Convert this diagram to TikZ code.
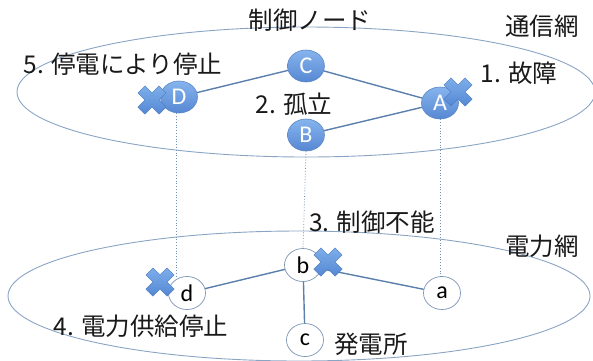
\documentclass[tikz,border=0pt]{standalone}
\usepackage{fontspec}
\setmainfont{Carlito}
\newfontfamily\jp{Noto Sans CJK JP}
\usetikzlibrary{shapes.geometric}
\definecolor{netline}{HTML}{8AA4C4}
\definecolor{linkc}{HTML}{5B7FAD}
\definecolor{dotc}{HTML}{6F8FB5}
\definecolor{ntop}{HTML}{86B4EE}
\definecolor{nbot}{HTML}{5687D2}
\definecolor{nborder}{HTML}{5B87C4}
\definecolor{wborder}{HTML}{7D95B5}
\definecolor{xtop}{HTML}{7DAEEA}
\definecolor{xbot}{HTML}{5588D4}
\tikzset{
  net/.style={draw=netline, line width=0.9pt},
  cnode/.style={shape=ellipse, minimum width=37pt, minimum height=32pt, inner sep=0pt,
    top color=ntop, bottom color=nbot, draw=nborder, line width=0.6pt,
    text=white, font=\fontsize{24}{24}\selectfont},
  pnode/.style={shape=ellipse, minimum width=37pt, minimum height=33pt, inner sep=0pt,
    fill=white, draw=wborder, line width=0.7pt,
    text=black, font=\fontsize{24}{24}\selectfont},
  link/.style={draw=linkc, line width=1.4pt},
  dep/.style={draw=dotc, line width=0.8pt, dotted},
  lbl/.style={inner sep=0pt, text=black!90, font=\jp\fontsize{24.5}{28}\selectfont},
  xmark/.pic={\shade[top color=xtop, bottom color=xbot, draw=xbot!90!black, line width=0.4pt, rotate=45]
     (-15,-5) -- (-5,-5) -- (-5,-15) -- (5,-15) -- (5,-5) -- (15,-5) -- (15,5) -- (5,5) -- (5,15) -- (-5,15) -- (-5,5) -- (-15,5) -- cycle;}
}
\begin{document}
\begin{tikzpicture}[x=1pt,y=-1pt]
\useasboundingbox (0,0) rectangle (593,360);
\draw[net] (306,92) ellipse [x radius=289, y radius=65];
\draw[net] (299,296) ellipse [x radius=291, y radius=65];

\node[cnode] (C) at (306,66) {C};
\node[cnode] (D) at (179,97) {D};
\node[cnode] (A) at (440,103) {A};
\node[cnode] (B) at (306,135) {B};

\node[pnode] (b) at (303,265) {b};
\node[pnode] (d) at (187,293) {d};
\node[pnode] (a) at (442,293) {a};
\node[pnode] (c) at (305,340) {c};

\path[link] (C) -- (D);
\path[link] (C) -- (A);
\path[link] (B) -- (A);
\path[link] (b) -- (d);
\path[link] (b) -- (a);
\path[link] (b) -- (c);

\coordinate (dtop) at ([xshift=-3pt]D.south |- d.north);
\path[dep] ([xshift=-3pt]D.south) -- (dtop);
\path[dep] (B.south) -- (b.north);
\path[dep] (A.south) -- (A.south |- a.north);

\pic at (152,100) {xmark};
\pic at (458,92) {xmark};
\pic at (328,262) {xmark};
\pic at (160,282) {xmark};

\node[lbl] (l1) at (310,20) {制御ノード};
\node[lbl] (l2) at (542,26) {通信網};
\node[lbl] (l3) at (123,64) {5. 停電により停止};
\node[lbl] (l4) at (519,73) {1. 故障};
\node[lbl] (l5) at (294,104) {2. 孤立};
\node[lbl] (l6) at (372,222) {3. 制御不能};
\node[lbl] (l7) at (542,246) {電力網};
\node[lbl] (l8) at (141,326) {4. 電力供給停止};
\node[lbl] (l9) at (371,344) {発電所};
\end{tikzpicture}
\end{document}
